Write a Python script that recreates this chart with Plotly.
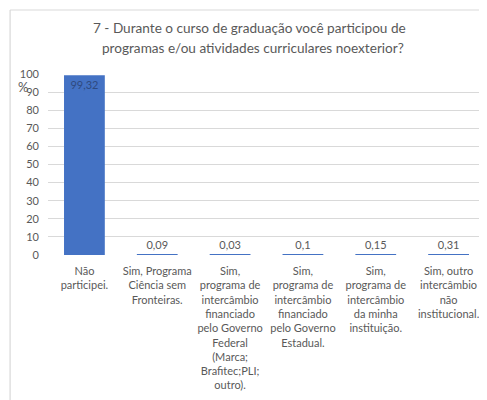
import plotly.graph_objects as go

categories = [
    "Não<br>participei.",
    "Sim, Programa<br>Ciência sem<br>Fronteiras.",
    "Sim,<br>programa de<br>intercâmbio<br>financiado<br>pelo Governo<br>Federal<br>(Marca;<br>Brafitec;PLI;<br>outro).",
    "Sim,<br>programa de<br>intercâmbio<br>financiado<br>pelo Governo<br>Estadual.",
    "Sim,<br>programa de<br>intercâmbio<br>da minha<br>instituição.",
    "Sim, outro<br>intercâmbio<br>não<br>institucional.",
]
values = [99.32, 0.09, 0.03, 0.1, 0.15, 0.31]
value_labels = ["99,32", "0,09", "0,03", "0,1", "0,15", "0,31"]
title_lines = [
    "7 - Durante o curso de graduação você participou de",
    "programas e/ou atividades curriculares noexterior?",
]

FONT = "Lato"
OFF = 8  # browser body margin
W, H = 487 - OFF, 400 - OFF
left_px, right_px, top_px, bottom_px = 47.5, 485.5, 74, 255
ml = left_px - OFF
mr = 487 - right_px
mt = top_px - OFF
mb = 400 - bottom_px
pw = W - ml - mr
ph = H - mt - mb


def px_x(x):
    return (x - left_px) / pw


def px_y(y):
    return (bottom_px - y) / ph


fig = go.Figure()
fig.add_trace(go.Bar(
    x=categories,
    y=values,
    marker=dict(color="#4472C4", line=dict(width=0)),
    text=value_labels,
    textposition=["inside"] + ["outside"] * 5,
    insidetextanchor="end",
    insidetextfont=dict(color="#2f4a80", size=11, family=FONT),
    outsidetextfont=dict(color="#595959", size=11, family=FONT),
    textangle=0,
    cliponaxis=False,
    hoverinfo="skip",
))

annotations = [
    dict(text=line, xref="paper", yref="paper",
         x=px_x(x_c), y=px_y(y_c),
         xanchor="center", yanchor="middle", showarrow=False,
         font=dict(size=13.6, color="#595959", family=FONT))
    for line, x_c, y_c in zip(title_lines, [249, 253], [28.5, 48])
]
annotations.append(
    dict(text="%", xref="paper", yref="paper",
         x=px_x(22), y=px_y(87),
         xanchor="center", yanchor="middle", showarrow=False,
         font=dict(size=13, color="#595959", family=FONT))
)

fig.update_layout(
    width=W, height=H,
    margin=dict(l=ml, r=mr, t=mt, b=mb, pad=0),
    paper_bgcolor="white",
    plot_bgcolor="white",
    bargap=0.44,
    showlegend=False,
    font=dict(family=FONT, color="#595959", size=11),
    xaxis=dict(
        showgrid=False, zeroline=False, showline=False,
        ticks="", tickfont=dict(size=11, color="#595959"),
        tickangle=0, automargin=False, ticklabelstandoff=8,
    ),
    yaxis=dict(
        range=[0, 100], dtick=10, showgrid=True, gridcolor="#d9d9d9",
        gridwidth=1, zeroline=False, showline=False, ticks="",
        tickfont=dict(size=11, color="#595959"), automargin=False,
        ticklabelstandoff=8,
    ),
    annotations=annotations,
    shapes=[
        dict(type="line", xref="paper", yref="paper",
             x0=px_x(9.5), x1=px_x(9.5),
             y0=px_y(410), y1=px_y(10),
             line=dict(color="#d0d0d0", width=1)),
        dict(type="line", xref="paper", yref="paper",
             x0=px_x(9.5), x1=px_x(490),
             y0=px_y(10), y1=px_y(10),
             line=dict(color="#d9d9d9", width=1)),
    ],
)

fig.write_html("out.html")
